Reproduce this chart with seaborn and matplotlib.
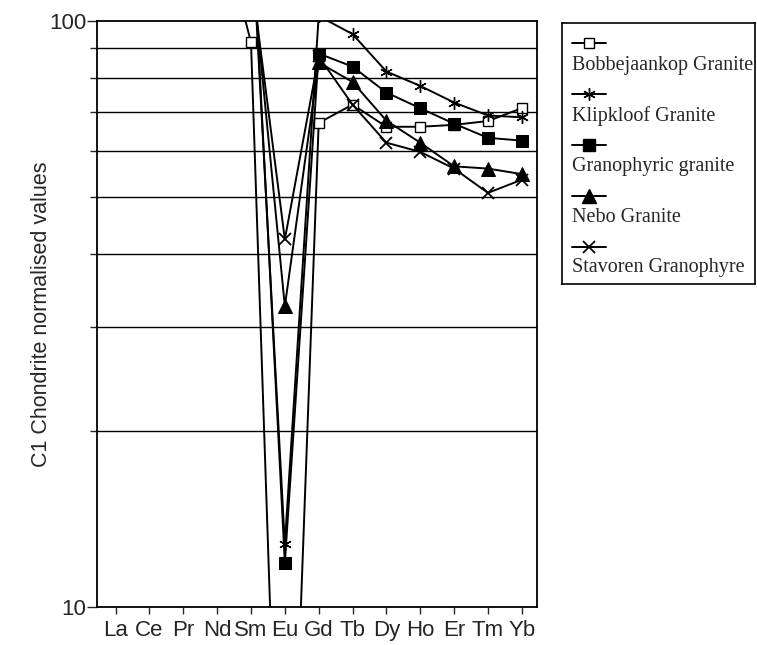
import numpy as np
import pandas as pd
import matplotlib
matplotlib.use("Agg")
import matplotlib.pyplot as plt
from matplotlib.ticker import FixedLocator, FixedFormatter, NullFormatter
import seaborn as sns

# Chondrite-normalised REE abundances (C1); LREE above 100 are off-scale
elements = ["La", "Ce", "Pr", "Nd", "Sm", "Eu", "Gd", "Tb", "Dy", "Ho", "Er", "Tm", "Yb"]
nan = np.nan
bobbejaankop = [nan, nan, nan, 154, 92, 1.8, 67, 72, 66, 66, 66.5, 67.5, 71]
klipkloof = [nan, nan, nan, nan, 150, 12.8, 102, 95, 82, 77.5, 72.6, 69, 68.5]
granophyric = [nan, nan, nan, nan, 160, 11.9, 88, 83.6, 75.5, 71, 66.8, 63.2, 62.5]
nebo = [nan, nan, nan, nan, 127, 32.6, 85, 78.7, 67.6, 62, 56.5, 56, 54.8]
stavoren = [nan, nan, nan, nan, 120, 42.4, 87, 72, 62, 59.8, 56, 50.9, 53.6]

series_names = ["Bobbejaankop Granite", "Klipkloof Granite", "Granophyric granite",
                "Nebo Granite", "Stavoren Granophyre"]
series_values = [bobbejaankop, klipkloof, granophyric, nebo, stavoren]

y_major = [10, 100]
y_major_labels = ["10", "100"]
y_minor = [20, 30, 40, 50, 60, 70, 80, 90]

sns.set_style("ticks")
plt.rcParams["font.family"] = ["Liberation Sans", "DejaVu Sans"]

marker_styles = {
    "Bobbejaankop Granite": dict(marker="s", markersize=7, markerfacecolor="white",
                                 markeredgecolor="black", markeredgewidth=1.0),
    "Klipkloof Granite": dict(marker=(6, 2, 0), markersize=9, markeredgecolor="black",
                              markeredgewidth=1.0),
    "Granophyric granite": dict(marker="s", markersize=8, markerfacecolor="black",
                                markeredgecolor="black"),
    "Nebo Granite": dict(marker="^", markersize=10, markerfacecolor="black",
                         markeredgecolor="black"),
    "Stavoren Granophyre": dict(marker="x", markersize=8, markeredgecolor="black",
                                markeredgewidth=1.3),
}

pos = np.arange(len(elements))
df = pd.concat(
    [pd.DataFrame({"pos": pos, "element": elements, "value": vals, "series": name})
     for name, vals in zip(series_names, series_values)]
).dropna()

fig = plt.figure(figsize=(7.57, 6.45), dpi=100)
ax = fig.add_axes([0.1281, 0.0589, 0.5813, 0.9085])

for name in series_names:
    sub = df[df["series"] == name]
    sns.lineplot(data=sub, x="pos", y="value", ax=ax, color="black", linewidth=1.4,
                 errorbar=None, legend=False, **marker_styles[name])

ax.set_yscale("log")
ax.set_ylim(10, 100)
ax.set_xlim(-0.55, 12.45)

ax.yaxis.set_major_locator(FixedLocator(y_major))
ax.yaxis.set_major_formatter(FixedFormatter(y_major_labels))
ax.yaxis.set_minor_locator(FixedLocator(y_minor))
ax.yaxis.set_minor_formatter(NullFormatter())
ax.set_xticks(pos, elements)

ax.tick_params(axis="x", direction="out", length=5, width=1.0, labelsize=16, pad=4)
ax.tick_params(axis="y", which="major", direction="out", length=7, width=1.0,
               labelsize=16, pad=0.5)
ax.tick_params(axis="y", which="minor", direction="out", length=5, width=1.0)

ax.grid(True, which="minor", axis="y", color="black", linewidth=1.0)
ax.grid(False, which="major")
ax.set_axisbelow(True)
for s in ax.spines.values():
    s.set_linewidth(1.3)
    s.set_color("black")

ax.set_xlabel("")
ax.set_ylabel("C1 Chondrite normalised values", fontsize=15.5)
ax.yaxis.set_label_coords(-0.103, 0.5)

# Legend panel: handle on one row, label underneath
lax = fig.add_axes([0.7424, 0.5597, 0.255, 0.4047])
lax.set_xlim(0, 1)
lax.set_ylim(0, 1)
lax.set_xticks([])
lax.set_yticks([])
lax.set_facecolor("white")
for s in lax.spines.values():
    s.set_linewidth(1.2)
    s.set_color("black")

box_h = 261.0
for i, name in enumerate(series_names):
    hy = 1 - (20 + 51 * i) / box_h
    ly = 1 - (43 + 50.5 * i) / box_h
    lax.plot([0.052, 0.228], [hy, hy], color="black", linewidth=1.4)
    lax.plot([0.14], [hy], color="black", linestyle="none", **marker_styles[name])
    lax.text(0.052, ly, name, family=["Liberation Serif", "DejaVu Serif"],
             fontsize=14.5, va="center", ha="left")

fig.savefig("out.png", dpi=100, facecolor="white")
